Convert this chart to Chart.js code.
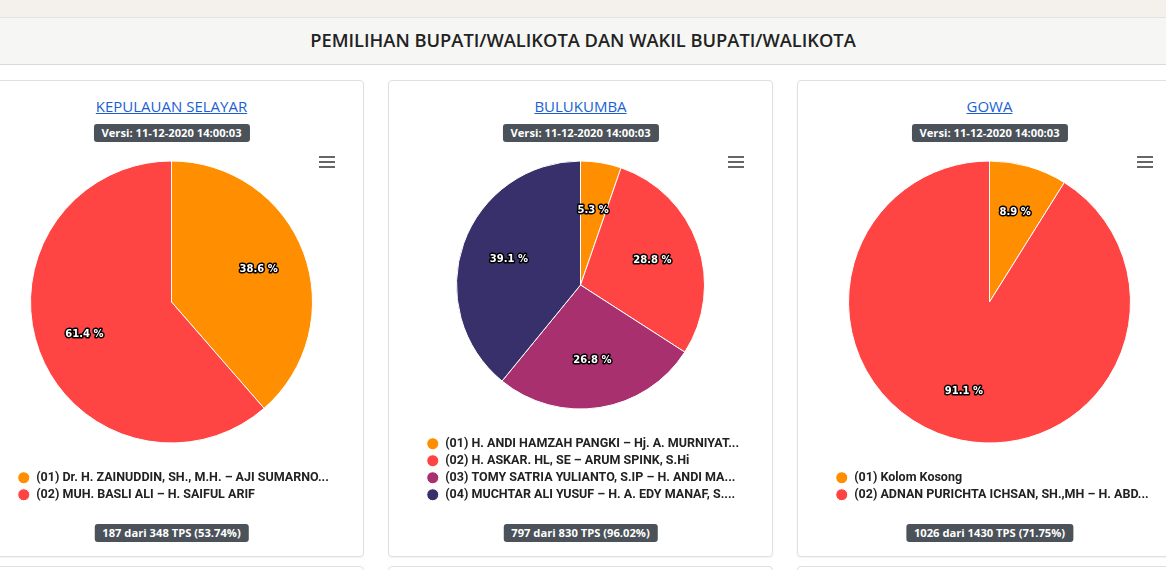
<!DOCTYPE html>
<html>
<head>
<meta charset="utf-8">
<script src="https://cdn.jsdelivr.net/npm/chart.js@4.4.1/dist/chart.umd.min.js"></script>
<style>
  body { margin: 0; width: 1166px; height: 570px; overflow: hidden; background: #fff; font-family: "Open Sans", sans-serif; position: relative; }
  .strip { position: absolute; left: 0; top: 0; width: 1166px; height: 17px; background: #f4f1ec; border-bottom: 1px solid #e6e3de; }
  .header { position: absolute; left: 0; top: 18px; width: 1166px; height: 46px; background: #f6f6f5; border-bottom: 1px solid #d9d9d9;
            text-align: center; line-height: 44px; font-size: 18.3px; font-weight: 600; color: #222; }
  .card { position: absolute; width: 383px; height: 475px; top: 80px; background: #fff; border: 1px solid #e0e0e0; border-radius: 4px;
          box-shadow: 0 1px 2px rgba(0,0,0,0.05); }
  .card.next { top: 566px; height: 100px; }
  .card h3 { position: absolute; left: 0; right: 0; top: 15px; margin: 0; text-align: center; font-size: 15px; font-weight: 500; }
  .card h3 a { color: #1b5fd2; text-decoration: underline; }
  .badge { position: absolute; left: 50%; transform: translateX(-50%); background: #4b5259; color: #fff; font-weight: 700;
           font-size: 11.2px; line-height: 18px; padding: 0 8px; border-radius: 3px; white-space: nowrap; }
  .badge.ver { top: 43px; }
  .badge.tps { top: 443px; }
  .card canvas { position: absolute; left: 0; top: 56px; }
  .menu { position: absolute; right: 28px; top: 75px; width: 16px; }
  .menu i { display: block; height: 2px; background: #666; margin-bottom: 3px; }
</style>
</head>
<body>
<div class="strip"></div>
<div class="header">PEMILIHAN BUPATI/WALIKOTA DAN WAKIL BUPATI/WALIKOTA</div>

<div class="card" style="left:-21px">
  <h3><a href="#">KEPULAUAN SELAYAR</a></h3>
  <div class="badge ver">Versi: 11-12-2020 14:00:03</div>
  <canvas id="c1" width="383" height="374"></canvas>
  <div class="menu"><i></i><i></i><i></i></div>
  <div class="badge tps" id="t1"></div>
</div>
<div class="card" style="left:388px">
  <h3><a href="#">BULUKUMBA</a></h3>
  <div class="badge ver">Versi: 11-12-2020 14:00:03</div>
  <canvas id="c2" width="383" height="374"></canvas>
  <div class="menu"><i></i><i></i><i></i></div>
  <div class="badge tps" id="t2"></div>
</div>
<div class="card" style="left:797px">
  <h3><a href="#">GOWA</a></h3>
  <div class="badge ver">Versi: 11-12-2020 14:00:03</div>
  <canvas id="c3" width="383" height="374"></canvas>
  <div class="menu"><i></i><i></i><i></i></div>
  <div class="badge tps" id="t3"></div>
</div>
<div class="card next" style="left:-21px"></div>
<div class="card next" style="left:388px"></div>
<div class="card next" style="left:797px"></div>

<script>
  // data per kabupaten (persentase suara)
  const selayarLabels = ['(01) Dr. H. ZAINUDDIN, SH., M.H. – AJI SUMARNO...', '(02) MUH. BASLI ALI – H. SAIFUL ARIF'];
  const selayarValues = [38.6, 61.4];

  const bulukumbaLabels = ['(01) H. ANDI HAMZAH PANGKI – Hj. A. MURNIYAT...', '(02) H. ASKAR. HL, SE – ARUM SPINK, S.Hi',
    '(03) TOMY SATRIA YULIANTO, S.IP – H. ANDI MA...', '(04) MUCHTAR ALI YUSUF – H. A. EDY MANAF, S....'];
  const bulukumbaValues = [5.3, 28.8, 26.8, 39.1];

  const gowaLabels = ['(01) Kolom Kosong', '(02) ADNAN PURICHTA ICHSAN, SH.,MH – H. ABD...'];
  const gowaValues = [8.9, 91.1];

  const tpsTexts = ['187 dari 348 TPS (53.74%)', '797 dari 830 TPS (96.02%)', '1026 dari 1430 TPS (71.75%)'];

  const colors = ['#ff8f00', '#ff4444', '#a8306e', '#37306b'];

  // label persen di dalam irisan
  const pctLabels = {
    id: 'pctLabels',
    afterDatasetsDraw(chart) {
      const ctx = chart.ctx;
      const meta = chart.getDatasetMeta(0);
      const values = chart.data.datasets[0].data;
      ctx.save();
      ctx.font = 'bold 10px "DejaVu Sans"';
      ctx.textAlign = 'center';
      ctx.textBaseline = 'middle';
      ctx.lineJoin = 'round';
      meta.data.forEach((arc, i) => {
        const p = arc.getProps(['x', 'y', 'startAngle', 'endAngle', 'outerRadius'], true);
        const mid = (p.startAngle + p.endAngle) / 2;
        const r = p.outerRadius - 48;
        const tx = p.x + Math.cos(mid) * r;
        const ty = p.y + Math.sin(mid) * r;
        const txt = values[i].toFixed(1) + ' %';
        ctx.lineWidth = 3;
        ctx.strokeStyle = '#000';
        ctx.strokeText(txt, tx, ty);
        ctx.fillStyle = '#fff';
        ctx.fillText(txt, tx, ty);
      });
      ctx.restore();
    }
  };

  function makePie(id, labels, values, radius) {
    new Chart(document.getElementById(id), {
      type: 'pie',
      data: {
        labels: labels,
        datasets: [{
          data: values,
          backgroundColor: colors.slice(0, values.length),
          borderColor: '#fff',
          borderWidth: 1
        }]
      },
      options: {
        responsive: false,
        animation: false,
        radius: radius,
        layout: { padding: { left: 33, right: 33 } },
        plugins: {
          legend: {
            position: 'bottom',
            align: 'start',
            labels: {
              usePointStyle: true,
              pointStyle: 'circle',
              boxHeight: 8.5,
              padding: 4.5,
              color: '#222',
              font: { family: 'Roboto', weight: 'bold', size: 12.5 }
            }
          },
          tooltip: { enabled: false }
        },
        events: []
      },
      plugins: [pctLabels]
    });
  }

  makePie('c1', selayarLabels, selayarValues, 141);
  makePie('c2', bulukumbaLabels, bulukumbaValues, 124);
  makePie('c3', gowaLabels, gowaValues, 141);

  document.getElementById('t1').textContent = tpsTexts[0];
  document.getElementById('t2').textContent = tpsTexts[1];
  document.getElementById('t3').textContent = tpsTexts[2];
</script>
</body>
</html>
